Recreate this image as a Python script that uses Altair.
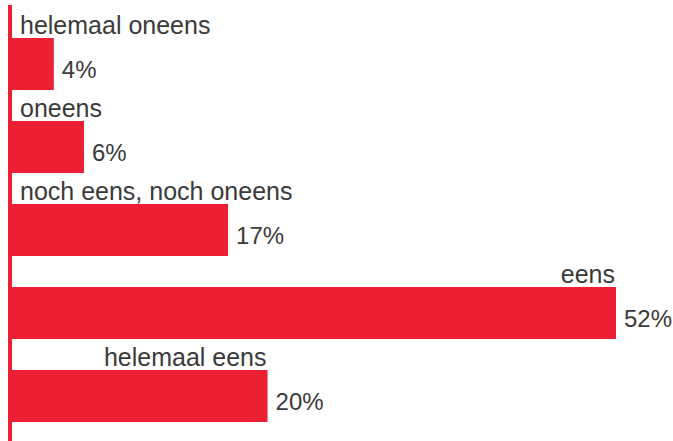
import altair as alt
import pandas as pd

categories = ["helemaal oneens", "oneens", "noch eens, noch oneens", "eens", "helemaal eens"]
bar_values = [3.6, 6.2, 18.6, 52.0, 22.0]
pct_labels = ["4%", "6%", "17%", "52%", "20%"]

df = pd.DataFrame({"cat": categories, "value": bar_values, "pct": pct_labels})

RED = "#ec1f33"
TXT = "#3a3a3a"
FONT = "Liberation Sans"

xs = alt.Scale(domain=[0, 52], range=[12, 616])
ys = alt.Scale(domain=categories, range=[38, 422], paddingInner=0.373, paddingOuter=0)

base = alt.Chart(df)

bars = base.mark_bar(color=RED).encode(
    x=alt.X("value:Q", scale=xs, axis=None),
    y=alt.Y("cat:N", scale=ys, axis=None, sort=categories),
)

axis_line = base.mark_rule(color=RED, strokeWidth=4).encode(
    x=alt.value(10), y=alt.value(5), y2=alt.value(441)
)

lab_left = base.transform_filter("datum.value < 20").mark_text(
    align="left", baseline="alphabetic", dx=8, dy=-30, fontSize=25, font=FONT, color=TXT
).encode(
    x=alt.value(12),
    y=alt.Y("cat:N", scale=ys, axis=None, sort=categories),
    text="cat:N",
)

lab_right = base.transform_filter("datum.value >= 20").mark_text(
    align="right", baseline="alphabetic", dx=-1, dy=-30, fontSize=25, font=FONT, color=TXT
).encode(
    x=alt.X("value:Q", scale=xs, axis=None),
    y=alt.Y("cat:N", scale=ys, axis=None, sort=categories),
    text="cat:N",
)

pct = base.mark_text(
    align="left", baseline="alphabetic", dx=8, dy=14, fontSize=24, font=FONT, color=TXT
).encode(
    x=alt.X("value:Q", scale=xs, axis=None),
    y=alt.Y("cat:N", scale=ys, axis=None, sort=categories),
    text="pct:N",
)

chart = alt.layer(axis_line, bars, lab_left, lab_right, pct).properties(
    width=673, height=441, padding=0, autosize="none"
).configure_view(stroke=None)

chart.save("out.html", embed_options={"renderer": "svg", "actions": False})
